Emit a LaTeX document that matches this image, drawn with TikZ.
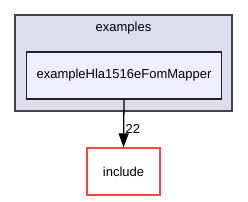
\documentclass[tikz,border=0pt]{standalone}
\usepackage{fontspec}
\setmainfont{Liberation Sans}
\usetikzlibrary{arrows.meta}
\definecolor{outerfill}{HTML}{DDDDEE}
\definecolor{outerdraw}{HTML}{444444}
\definecolor{innerfill}{HTML}{EEEEFF}
\definecolor{innerdraw}{HTML}{222222}
\definecolor{reddraw}{HTML}{FF4444}
\tikzset{
  lbl/.style={font=\fontsize{13}{15}\selectfont, inner sep=0pt},
  cluster/.style={draw=outerdraw, fill=outerfill, line width=1.3pt},
  dirbox/.style={draw=innerdraw, fill=innerfill, line width=1.3pt},
  incbox/.style={draw=reddraw, fill=white, line width=1.3pt},
}
\begin{document}
\begin{tikzpicture}[x=1pt,y=-1pt]
\useasboundingbox (0,0) rectangle (248,201);
\draw[cluster] (15,15) rectangle (232,111);
\node[lbl] (examples) at (123.5,28) {examples};
\node[dirbox, minimum width=195pt, minimum height=47pt] (mapper) at (124,75.5) {};
\node[lbl] at (mapper.center) {exampleHla1516eFomMapper};
\node[incbox, minimum width=73pt, minimum height=47pt] (include) at (123.5,171.5) {};
\node[lbl] at (include.center) {include};
\draw[line width=1.3pt, -{Triangle[length=14pt,width=10pt]}] (mapper.south) -- (include.north);
\node[lbl, anchor=west] (num) at (125.5,128.5) {22};
\end{tikzpicture}
\end{document}
